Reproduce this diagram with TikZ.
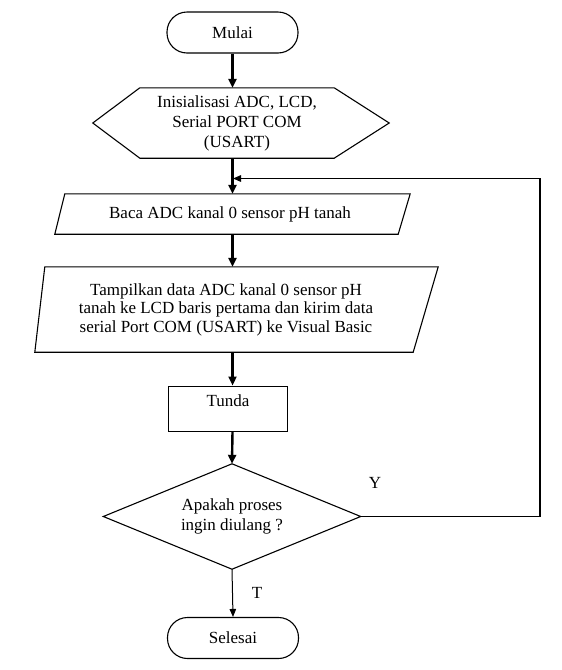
\documentclass[tikz,border=0pt]{standalone}
\usepackage{fontspec}
\setmainfont{Liberation Serif}
\usetikzlibrary{arrows.meta,calc}
\newcommand\fsz{\fontsize{17pt}{19.5pt}\selectfont}
\begin{document}
\begin{tikzpicture}[x=1pt,y=-1pt,
  every node/.style={font=\fsz, inner sep=0pt},
  term/.style={draw, line width=1.1pt, rounded corners=20pt, minimum width=131pt, minimum height=41pt},
  shapebox/.style={draw=none, minimum height=#1},
  outline/.style={line width=1.1pt, line join=miter},
  arr/.style={line width=2.4pt, -{Triangle[length=9pt,width=8pt]}},
  thinarr/.style={line width=1pt, -{Triangle[length=8pt,width=6.5pt]}},
  fb/.style={line width=1.4pt, -{Triangle[length=8pt,width=6.5pt]}}]
\fill[white] (0,0) rectangle (562,670);
\useasboundingbox (0,0) rectangle (562,670);

% Mulai
\node[term] (mulai) at (232.5,32.5) {Mulai};

% Inisialisasi hexagon
\node[shapebox=70pt, minimum width=194pt, align=center, font={\fontsize{17pt}{20pt}\selectfont}] (init) at (237,123) {\raisebox{-2pt}{\parbox{194pt}{\centering Inisialisasi ADC, LCD,\\Serial PORT COM\\(USART)}}};
\draw[outline] (init.north west) -- (init.north east) -- ($(init.east)+(55,0)$) -- (init.south east) -- (init.south west) -- ($(init.west)+(-47,0)$) -- cycle;

% Baca
\node[shapebox=40pt, minimum width=350pt] (baca) at (230,214) {Baca ADC kanal 0 sensor pH tanah};
\draw[outline] ($(baca.north west)+(10,0)$) -- ($(baca.north east)+(5,0)$) -- ($(baca.south east)+(-7,0)$) -- (baca.south west) -- cycle;

% Tampilkan
\node[shapebox=85pt, minimum width=382pt, align=center, font={\fontsize{17pt}{18.5pt}\selectfont}] (tamp) at (226,309.5) {Tampilkan data ADC kanal 0 sensor pH\\tanah ke LCD baris pertama dan kirim data\\serial Port COM (USART) ke Visual Basic};
\draw[outline] ($(tamp.north west)+(10,0)$) -- ($(tamp.north east)+(21,0)$) -- ($(tamp.south east)+(-4,0)$) -- (tamp.south west) -- cycle;

% Tunda
\node[draw, line width=1pt, minimum width=119pt, minimum height=45pt] (tunda) at (227.5,408.5) {};
\node (tundatext) at (228,401) {Tunda};

% Decision
\node[shapebox=105pt, minimum width=257pt, align=center] (dec) at (232,516.5) {Apakah proses\\ingin diulang ?};
\draw[outline] (dec.north) -- (dec.east) -- (dec.south) -- (dec.west) -- cycle;

% Selesai
\node[term] (selesai) at (233,638) {Selesai};

% labels
\node (ylbl) at (375,483) {Y};
\node (tlbl) at (257,593) {T};

% connectors
\draw[arr] (mulai.south) -- (mulai.south |- init.north);
\draw[arr] (mulai.south |- init.south) -- (mulai.south |- baca.north);
\draw[arr] (mulai.south |- baca.south) -- (mulai.south |- tamp.north);
\draw[arr] (mulai.south |- tamp.south) -- (mulai.south |- tunda.north);
\draw[arr] (mulai.south |- tunda.south) -- (dec.north);
\draw[thinarr] (dec.south) -- (selesai.north);

\coordinate (join) at (233,178.5);
\coordinate (turn) at (540,516.5);
\draw[fb] (dec.east) -- (turn) |- (join);
\end{tikzpicture}
\end{document}
